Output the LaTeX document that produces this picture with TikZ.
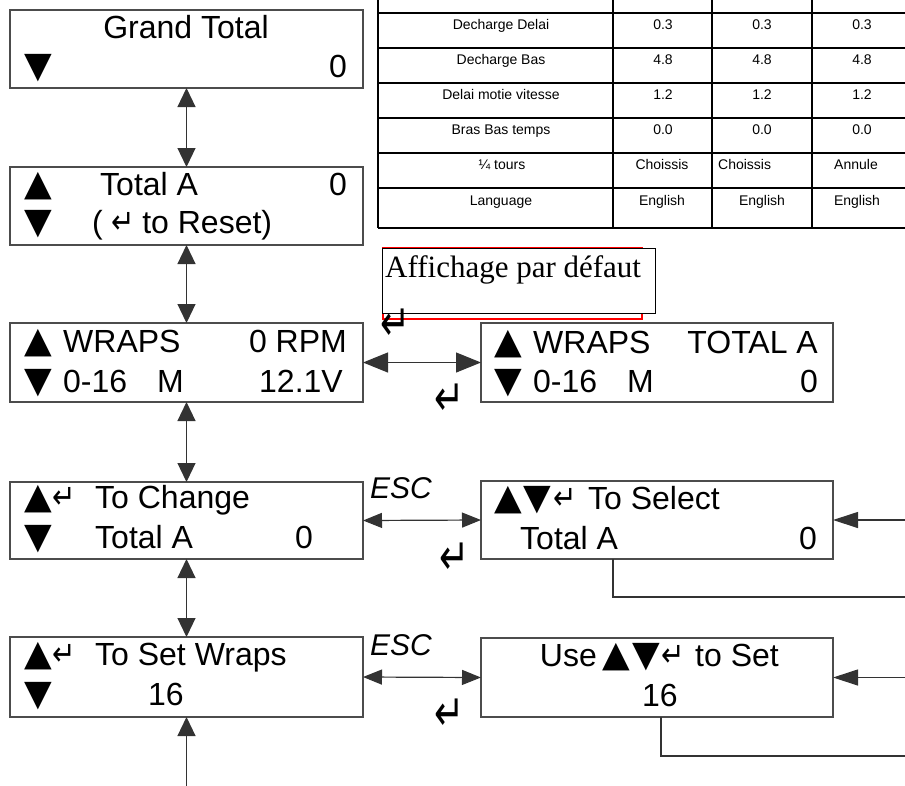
\documentclass[tikz,border=0pt]{standalone}
\usepackage{fontspec}
\setmainfont{Liberation Sans}
\newfontfamily\seriffont{Liberation Serif}
\newfontfamily\symfont{DejaVu Sans}
\usetikzlibrary{arrows.meta}
\newcommand{\trifont}{\symfont\fontsize{36}{36}\selectfont}
\newcommand{\upsym}{{\trifont ▲}}
\newcommand{\dnsym}{{\trifont ▼}}
\newcommand{\ensym}{{\symfont\fontsize{28}{28}\selectfont\scalebox{1}[1.2]{↵}}}
\newcommand{\bigentsym}{{\symfont\fontsize{36}{36}\selectfont\scalebox{1}[1.4]{↵}}}
\tikzset{
  lcdbox/.style={draw=black!70, line width=1.3pt, minimum width=353pt, minimum height=78pt, inner sep=0pt, outer sep=0pt, anchor=north west},
  tx/.style={inner sep=0pt, anchor=base west, font=\fontsize{32}{36}\selectfont},
  txr/.style={tx, anchor=base east},
  txc/.style={tx, anchor=base},
  symb/.style={inner sep=0pt, anchor=base west, text height=22pt, text depth=0pt},
  bigent/.style={inner sep=0pt, anchor=center},
  esc/.style={inner sep=0pt, anchor=base west, font=\itshape\fontsize{30}{34}\selectfont},
  conn/.style={draw=black!80, line width=1.2pt},
  vv/.style={{Triangle[length=19pt,width=18pt]}-{Triangle[length=19pt,width=18pt]}},
  hh/.style={{Triangle[length=25pt,width=20pt]}-{Triangle[length=25pt,width=20pt]}},
  ee/.style={{Triangle[length=19pt,width=15pt]}-{Triangle[length=19pt,width=15pt]}},
  rr/.style={-{Triangle[length=25pt,width=16pt]}},
  tbl/.style={draw=black, line width=1.6pt},
  tt/.style={inner sep=0pt, anchor=base, font=\fontsize{14}{16}\selectfont},
  ttl/.style={tt, anchor=base west},
}
\begin{document}
\begin{tikzpicture}[x=1pt,y=-1pt]
\useasboundingbox (0,0) rectangle (905,785);
\clip (0,0) rectangle (905,785);

% ---------- table ----------
\foreach \xx in {378,613,712,812} {\draw[tbl] (\xx,-10) -- (\xx,228);}
\foreach \yy in {13,48,83,118,153,188,228} {\draw[tbl] (378,\yy) -- (915,\yy);}
\foreach \lab/\a/\b/\c [count=\i] in {Decharge Delai/0.3/0.3/0.3, Decharge Bas/4.8/4.8/4.8, Delai motie vitesse/1.2/1.2/1.2, Bras Bas temps/0.0/0.0/0.0}{
  \node[tt] (r\i c1) at (501,{29+35*(\i-1)}) {\lab};
  \node[tt] (r\i c2) at (663,{29+35*(\i-1)}) {\a};
  \node[tt] (r\i c3) at (762,{29+35*(\i-1)}) {\b};
  \node[tt] (r\i c4) at (862,{29+35*(\i-1)}) {\c};
}
\node[tt] (r5c1) at (502,169) {¼ tours};
\node[tt] (r5c2) at (662,169) {Choissis};
\node[ttl] (r5c3) at (718,169) {Choissis};
\node[tt] (r5c4) at (856,169) {Annule};
\node[tt] (r6c1) at (501,205) {Language};
\node[tt] (r6c2) at (662,205) {English};
\node[tt] (r6c3) at (762,205) {English};
\node[tt] (r6c4) at (857,205) {English};

% ---------- Affichage par defaut ----------
\node[draw=red, line width=2pt, minimum width=259pt, minimum height=71pt, inner sep=0pt, anchor=north west] (defred) at (382,247) {};
\node[draw=black, fill=white, line width=1pt, minimum width=273pt, minimum height=65pt, inner sep=0pt, anchor=north west] (def) at (382,248) {};
\node[inner sep=0pt, anchor=base west, font=\seriffont\fontsize{31}{34}\selectfont] (deftxt) at (385,277) {Affichage par défaut};

% ---------- boxes ----------
\node[lcdbox] (gt) at (10,10) {};
\node[lcdbox] (ta) at (10,167) {};
\node[lcdbox, minimum height=79pt] (wr) at (10,323) {};
\node[lcdbox, minimum width=352pt, minimum height=79pt] (wr2) at (481,323) {};
\node[lcdbox, minimum height=77pt] (tc) at (10,482) {};
\node[lcdbox, minimum width=352pt] (sel) at (481,481) {};
\node[lcdbox, minimum height=80pt] (sw) at (10,637) {};
\node[lcdbox, minimum width=352pt, minimum height=79pt] (use) at (481,638) {};

% Grand Total
\node[txc] at (186,38) {Grand Total};
\node[symb] at (24,77) {\dnsym};
\node[txr] at (347,77) {0};
% Total A
\node[symb] at (24,195) {\upsym};
\node[tx] at (100,195) {Total A};
\node[txr] at (347,195) {0};
\node[symb] at (24,233) {\dnsym};
\node[tx] at (92,233) {(\hspace{9pt}\ensym\hspace{7pt}to Reset)};
% WRAPS left
\node[symb] at (24,352) {\upsym};
\node[tx] at (63,352) {WRAPS};
\node[txr] at (347,352) {0 RPM};
\node[symb] at (24,392) {\dnsym};
\node[tx] at (63,392) {0-16};
\node[tx] at (157,392) {M};
\node[txr] at (343,392) {12.1V};
% WRAPS right
\node[symb] at (494,353) {\upsym};
\node[tx] at (533,353) {WRAPS};
\node[txr] at (818,353) {TOTAL A};
\node[symb] at (494,392) {\dnsym};
\node[tx] at (533,392) {0-16};
\node[tx] at (627,392) {M};
\node[txr] at (818,392) {0};
% To Change
\node[symb] at (24,508) {\upsym\hspace{1pt}\ensym};
\node[tx] at (95,508) {To Change};
\node[symb] at (24,548) {\dnsym};
\node[tx] at (95,548) {Total A};
\node[txr] at (313,548) {0};
% To Select
\node[symb] at (494,509) {\upsym\hspace{2pt}\dnsym\hspace{2pt}\ensym};
\node[tx] at (588,509) {To Select};
\node[tx] at (520,549) {Total A};
\node[txr] at (817,549) {0};
% To Set Wraps
\node[symb] at (24,665) {\upsym\hspace{1pt}\ensym};
\node[tx] at (95,665) {To Set Wraps};
\node[symb] at (24,705) {\dnsym};
\node[tx] at (148,705) {16};
% Use to Set
\node[txr] at (597,666) {Use};
\node[symb] at (602,666) {\upsym\hspace{3pt}\dnsym\hspace{1pt}\ensym};
\node[tx] at (695,666) {to Set};
\node[tx] at (642,706) {16};

% ESC labels and enter symbols
\node[esc] (esc1) at (370,498) {ESC};
\node[esc] (esc2) at (370,655) {ESC};
\node[bigent] (ent1) at (396,325) {\bigentsym};
\node[bigent] (ent2) at (450,400) {\bigentsym};
\node[bigent] (ent3) at (455,559) {\bigentsym};
\node[bigent] (ent4) at (450,715) {\bigentsym};

% ---------- connectors ----------
\draw[conn, vv] (gt.south) -- (ta.north);
\draw[conn, vv] (ta.south) -- (wr.north);
\draw[conn, vv] (wr.south) -- (tc.north);
\draw[conn, vv] (tc.south) -- (sw.north);
\coordinate (bottomin) at (186.5,790);
\draw[conn, -{Triangle[length=19pt,width=18pt]}] (bottomin) -- (sw.south);
\draw[conn, hh] (wr.east) -- (wr2.west);
\draw[conn, ee] (tc.east) -- (sel.west);
\draw[conn, ee] (sw.east) -- (use.west);

\coordinate (selin) at (910,520);
\draw[conn, rr] (selin) -- (sel.east);
\coordinate (selout) at (910,597);
\draw[conn] (sel.south west) ++(132,0) coordinate (selbot) -- (selbot |- selout) -- (selout);
\coordinate (usein) at (910,677.5);
\draw[conn, rr] (usein) -- (use.east);
\coordinate (useout) at (910,756);
\draw[conn] (use.south west) ++(180,0) coordinate (usebot) -- (usebot |- useout) -- (useout);
\end{tikzpicture}
\end{document}
